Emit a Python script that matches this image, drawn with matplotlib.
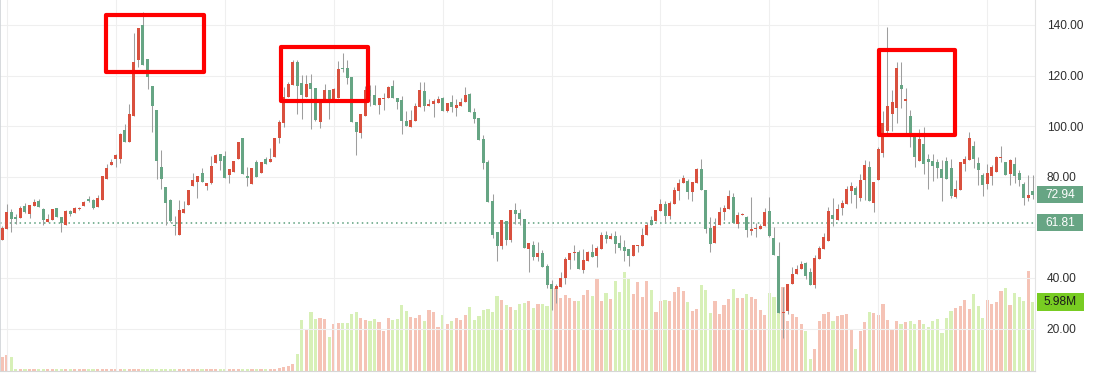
import matplotlib
matplotlib.use("Agg")
import matplotlib.pyplot as plt
from matplotlib.patches import Rectangle
from matplotlib.transforms import blended_transform_factory

# daily OHLC (price) and volume (millions)
open_ = [
    55.0, 59.4, 66.0, 64.0, 63.7, 68.4, 65.3, 68.4, 70.3, 67.2, 62.2, 63.0, 67.6, 64.0, 60.8, 66.4,
    65.7, 67.4, 68.5, 71.3, 71.0, 68.1, 70.7, 79.2, 84.7, 87.0, 87.0, 98.4, 93.8, 104.1, 126.1, 140.0,
    126.4, 115.9, 106.4, 84.0, 75.9, 70.7, 60.8, 57.0, 65.7, 68.9, 76.4, 78.1, 81.4, 76.4, 77.5, 85.5,
    89.2, 88.2, 80.6, 81.9, 87.0, 95.4, 80.2, 77.1, 85.8, 81.6, 87.0, 85.8, 87.9, 95.4, 101.3, 111.5,
    116.4, 125.4, 117.0, 111.5, 117.0, 115.1, 101.6, 110.7, 114.3, 110.7, 111.2, 122.9, 123.0, 119.4,
    101.6, 97.4, 104.0, 114.5, 112.3, 108.3, 110.7, 111.2, 115.9, 111.1, 110.3, 102.1, 99.8, 101.9,
    107.7, 113.9, 107.9, 108.9, 109.3, 111.1, 106.1, 109.5, 107.3, 108.1, 109.7, 112.6, 105.6, 103.2,
    95.0, 85.8, 70.3, 58.2, 52.5, 62.4, 54.9, 66.8, 65.5, 63.2, 51.3, 52.9, 48.3, 49.8, 44.6, 37.8,
    35.6, 36.4, 40.0, 47.0, 49.8, 50.2, 43.0, 46.6, 50.2, 48.6, 51.5, 56.9, 55.4, 56.5, 53.7, 52.1,
    51.3, 48.7, 52.7, 52.7, 56.8, 62.8, 62.4, 66.6, 69.1, 64.4, 69.2, 74.3, 77.5, 78.5, 74.0, 77.6,
    83.0, 74.7, 59.9, 53.9, 60.8, 66.1, 67.2, 71.9, 61.4, 64.8, 64.0, 58.6, 59.4, 59.4, 60.4, 66.4,
    56.0, 48.8, 26.1, 26.9, 37.6, 41.6, 43.6, 45.8, 42.2, 37.1, 47.4, 51.6, 54.6, 64.8, 63.1, 67.6,
    69.3, 74.4, 75.5, 71.7, 78.6, 83.8, 69.8, 78.7, 89.5, 98.0, 104.8, 107.1, 116.3, 109.9, 104.0,
    96.5, 86.2, 92.9, 87.1, 86.2, 85.8, 83.1, 86.2, 83.4, 72.1, 74.7, 85.0, 86.6, 92.2, 85.4, 80.8,
    77.1, 80.4, 82.0, 87.6, 85.8, 81.2, 85.1, 81.4, 77.0, 71.7, 74.3,
]
high = [
    60.6, 69.2, 67.2, 65.3, 68.5, 69.6, 68.9, 71.1, 71.1, 67.7, 65.3, 67.2, 67.6, 64.0, 66.7, 66.9,
    68.2, 68.1, 70.4, 72.6, 71.3, 72.8, 80.2, 85.0, 87.1, 89.2, 97.3, 101.0, 108.7, 136.7, 138.8, 145.1,
    126.4, 115.9, 106.4, 90.5, 75.9, 71.4, 64.4, 70.7, 70.3, 74.6, 81.4, 80.2, 83.4, 77.5, 88.2, 88.9,
    89.2, 90.3, 82.9, 86.2, 93.7, 95.4, 83.7, 83.4, 86.7, 85.8, 88.0, 91.3, 95.4, 102.4, 115.3, 117.5,
    126.1, 126.2, 120.2, 120.2, 120.7, 115.1, 110.8, 116.6, 114.3, 114.9, 125.8, 128.8, 126.1, 119.4,
    101.6, 105.0, 115.9, 116.1, 116.1, 111.1, 113.0, 115.9, 118.2, 111.1, 111.9, 105.9, 106.3, 109.3,
    117.5, 117.6, 110.7, 110.9, 112.0, 111.6, 109.1, 112.3, 110.8, 111.1, 115.5, 113.3, 107.0, 103.2,
    96.4, 86.6, 73.3, 58.2, 63.0, 62.4, 66.8, 69.7, 67.2, 63.5, 54.0, 54.5, 54.1, 51.1, 45.4, 39.1,
    37.5, 42.5, 48.3, 50.0, 53.0, 51.0, 51.4, 50.5, 53.4, 52.5, 58.1, 58.6, 57.6, 58.5, 57.0, 55.1,
    51.3, 52.9, 52.9, 59.9, 62.2, 64.7, 66.8, 71.4, 70.3, 70.5, 75.8, 79.0, 80.6, 79.3, 77.9, 83.5,
    87.0, 74.7, 64.2, 63.6, 68.1, 68.8, 74.7, 73.6, 66.0, 65.8, 64.7, 71.9, 61.6, 61.5, 67.6, 71.9,
    60.1, 54.1, 36.4, 37.8, 44.5, 45.0, 46.7, 46.2, 43.9, 49.2, 52.5, 57.8, 68.0, 71.6, 69.1, 71.0,
    76.5, 77.9, 76.5, 81.1, 86.8, 86.2, 77.9, 91.8, 106.0, 139.3, 114.4, 125.4, 125.4, 115.0, 106.4,
    97.4, 98.8, 99.6, 89.2, 88.9, 87.1, 86.8, 87.9, 87.1, 78.6, 85.8, 88.3, 97.7, 94.0, 87.9, 81.6,
    85.0, 84.7, 88.1, 92.1, 85.8, 87.1, 87.9, 82.6, 78.0, 80.6, 80.6,
]
low = [
    55.0, 59.4, 58.2, 61.5, 63.7, 65.5, 63.6, 68.4, 68.1, 60.8, 62.2, 63.0, 64.1, 58.2, 60.8, 64.4,
    65.7, 66.8, 68.5, 70.2, 67.3, 68.1, 70.7, 79.2, 84.7, 84.0, 85.3, 93.8, 93.8, 104.1, 123.5, 124.3,
    114.8, 97.8, 79.3, 75.3, 60.8, 62.0, 56.8, 57.0, 65.7, 68.9, 76.4, 71.8, 78.0, 74.8, 77.0, 85.5,
    82.6, 79.6, 77.7, 81.9, 87.0, 81.2, 76.5, 77.0, 80.0, 81.6, 85.0, 85.8, 87.9, 93.4, 99.7, 111.5,
    116.4, 105.0, 102.8, 111.5, 99.0, 102.1, 99.3, 110.7, 102.9, 110.7, 111.2, 121.3, 116.8, 101.6,
    88.7, 95.5, 104.0, 108.1, 108.3, 104.9, 106.3, 111.2, 111.2, 106.9, 97.1, 100.0, 99.8, 101.9,
    107.7, 106.1, 107.9, 103.6, 109.3, 106.1, 105.8, 105.6, 104.1, 108.1, 109.7, 105.7, 101.4, 94.6,
    83.2, 70.1, 55.8, 46.7, 51.6, 52.9, 54.2, 61.5, 60.8, 51.9, 42.4, 47.3, 46.6, 44.2, 36.0, 27.2,
    30.1, 36.4, 37.8, 43.5, 47.2, 43.6, 42.0, 46.6, 48.3, 44.4, 51.5, 53.9, 55.4, 49.8, 51.2, 46.8,
    44.9, 48.6, 50.3, 52.7, 56.8, 60.8, 62.4, 66.6, 62.2, 63.3, 69.2, 70.7, 77.5, 71.1, 70.5, 77.6,
    74.7, 57.9, 50.3, 53.9, 60.8, 63.0, 67.2, 61.8, 59.8, 64.8, 56.2, 56.9, 56.2, 59.4, 60.4, 56.1,
    49.2, 26.1, 16.3, 25.9, 37.6, 41.6, 43.6, 39.8, 37.1, 36.2, 47.4, 51.6, 54.6, 60.6, 63.1, 65.0,
    69.3, 69.7, 67.6, 70.6, 70.7, 70.5, 66.2, 78.7, 88.0, 96.9, 98.0, 101.3, 107.3, 97.3, 91.9,
    83.9, 86.2, 81.1, 75.2, 78.2, 79.4, 70.6, 79.2, 71.8, 71.8, 74.7, 82.2, 86.6, 83.4, 76.7, 72.5,
    75.0, 76.7, 82.0, 85.8, 80.8, 76.7, 77.6, 76.5, 68.8, 70.6, 71.4,
]
close = [
    59.8, 66.0, 63.2, 63.2, 67.6, 66.0, 68.9, 70.1, 68.1, 63.0, 63.5, 67.2, 64.1, 61.8, 66.4, 65.3,
    67.7, 67.6, 70.0, 70.3, 67.6, 71.5, 80.2, 83.4, 85.8, 88.7, 96.9, 93.8, 104.8, 125.4, 138.8, 124.3,
    119.6, 107.9, 86.2, 79.1, 69.7, 62.4, 60.6, 66.8, 67.3, 74.6, 78.7, 80.2, 78.0, 77.5, 84.2, 88.5,
    86.2, 79.6, 82.9, 86.2, 93.7, 81.2, 79.6, 83.4, 80.0, 85.8, 85.0, 87.1, 95.4, 101.6, 111.5, 116.6,
    125.4, 115.9, 112.3, 116.6, 114.8, 102.4, 110.8, 114.3, 110.7, 114.7, 122.6, 122.7, 119.0, 101.6,
    97.7, 105.0, 114.5, 111.9, 108.3, 111.1, 111.1, 115.5, 111.2, 109.7, 102.1, 100.0, 102.5, 108.0,
    114.3, 107.9, 108.7, 109.9, 110.8, 106.1, 109.1, 107.5, 108.2, 109.5, 112.4, 105.7, 102.8, 94.6,
    85.4, 70.1, 56.9, 52.5, 62.8, 54.9, 66.8, 65.3, 63.2, 51.9, 54.0, 48.3, 49.8, 44.2, 37.2, 35.6,
    36.7, 40.1, 47.4, 50.0, 50.0, 43.6, 47.0, 50.2, 48.3, 51.7, 56.9, 55.3, 56.5, 53.6, 51.9, 50.6,
    48.7, 52.9, 52.9, 56.8, 60.8, 60.8, 66.8, 69.1, 64.4, 69.6, 74.7, 77.5, 79.5, 74.0, 77.9, 83.0,
    74.7, 59.3, 53.5, 60.7, 66.2, 67.6, 72.3, 61.8, 64.8, 65.2, 59.0, 59.4, 59.8, 60.6, 66.0, 56.6,
    49.2, 26.1, 26.5, 37.8, 41.5, 43.6, 45.4, 40.7, 37.1, 47.9, 51.7, 56.1, 66.4, 63.2, 67.2, 69.6,
    75.1, 76.3, 73.0, 78.7, 84.6, 70.5, 77.9, 90.9, 101.2, 107.9, 109.5, 123.0, 114.7, 110.7, 96.5,
    87.9, 95.0, 85.0, 85.8, 84.2, 83.5, 79.6, 79.2, 72.3, 75.1, 85.8, 87.0, 95.3, 87.0, 82.7, 76.7,
    81.6, 83.9, 87.8, 87.9, 80.8, 86.6, 80.4, 78.9, 71.7, 73.0, 72.94,
]
volume = [
    1.21, 1.39, 1.21, 0.14, 0.15, 0.13, 0.16, 0.15, 0.14, 0.15, 0.16, 0.14, 0.13, 0.15, 0.16, 0.14,
    0.15, 0.14, 0.15, 0.13, 0.14, 0.16, 0.15, 0.16, 0.14, 0.15, 0.16, 0.17, 0.15, 0.16, 0.15, 0.14,
    0.15, 0.16, 0.15, 0.14, 0.15, 0.16, 0.14, 0.15, 0.15, 0.16, 0.14, 0.15, 0.13, 0.15, 0.16, 0.15,
    0.14, 0.15, 0.15, 0.16, 0.14, 0.15, 0.15, 0.14, 0.16, 0.15, 0.15, 0.17, 0.20, 0.23, 0.32, 0.40,
    0.60, 1.47, 4.42, 3.64, 5.11, 4.48, 4.59, 4.50, 2.95, 4.10, 4.16, 4.16, 4.19, 4.94, 5.11, 4.59,
    4.42, 4.33, 4.50, 4.25, 3.47, 4.59, 4.42, 4.50, 5.72, 5.20, 4.68, 4.59, 4.85, 4.33, 5.29, 5.11,
    3.81, 4.85, 4.07, 4.33, 4.59, 4.42, 4.85, 5.55, 4.42, 4.77, 5.29, 5.37, 5.11, 6.50, 6.15, 5.72,
    5.55, 5.29, 5.81, 5.89, 6.07, 5.46, 5.81, 5.81, 5.63, 7.45, 7.16, 6.33, 6.59, 6.33, 6.07, 6.07,
    6.59, 7.02, 6.50, 7.97, 6.07, 6.76, 6.24, 7.80, 6.85, 8.58, 7.97, 6.67, 7.71, 6.41, 7.80, 7.02,
    5.11, 6.07, 6.15, 6.07, 6.85, 7.28, 6.93, 5.98, 5.20, 5.37, 7.45, 7.02, 5.03, 6.07, 4.94, 5.72,
    6.24, 7.10, 6.33, 6.33, 6.67, 6.41, 6.24, 5.29, 4.85, 6.76, 6.41, 8.32, 7.28, 4.33, 4.94, 4.68,
    4.07, 3.47, 1.04, 1.91, 4.33, 4.94, 5.11, 4.33, 4.77, 4.85, 4.94, 3.55, 1.91, 3.47, 4.25, 5.11,
    5.03, 4.85, 5.81, 4.42, 3.55, 4.33, 4.07, 4.25, 4.33, 4.07, 4.42, 4.07, 3.81, 4.33, 4.50, 3.29,
    4.59, 5.20, 5.46, 5.63, 6.15, 5.37, 6.67, 5.63, 4.59, 6.15, 5.81, 5.98, 6.93, 7.19, 5.72, 6.76,
    6.41, 6.07, 8.67, 5.98,
]

price_ticks = [20, 40, 60, 80, 100, 120, 140]
price_labels = ["20.00", "40.00", "", "80.00", "100.00", "120.00", "140.00"]
ref_price = 61.81
last_volume_label = "5.98M"

# highlighted zones: (x0, x1, price_low, price_high)
boxes = [(22.8, 44.4, 121.4, 143.9), (61.4, 80.6, 110.0, 131.3), (193.1, 209.8, 96.5, 130.1)]

UP = "#d9503e"
DOWN = "#66a584"
UP_VOL = "#f5c3b6"
DOWN_VOL = "#d7f0b7"
WICK = "#9e9e9e"

plt.rcParams["font.family"] = ["Liberation Sans", "DejaVu Sans"]

fig = plt.figure(figsize=(11.02, 3.73), dpi=100)
ax = fig.add_axes([0, 2 / 373, 1035 / 1102, 371 / 373])
vax = ax.twinx()
ax.set_zorder(2)
ax.patch.set_visible(False)
vax.set_zorder(1)

n = len(close)
xs = list(range(n))
up = [c >= o for o, c in zip(open_, close)]

# volume bars
vax.bar(xs, volume, width=0.7, color=[UP_VOL if u else DOWN_VOL for u in up], linewidth=0)
vax.set_ylim(0, 32.15)
vax.set_yticks([])
for s in vax.spines.values():
    s.set_visible(False)

# candles
ax.vlines(xs, low, high, color=WICK, linewidth=0.75, zorder=3)
bottoms = [min(o, c) for o, c in zip(open_, close)]
heights = [max(abs(c - o), 0.35) for o, c in zip(open_, close)]
ax.bar(xs, heights, bottom=bottoms, width=0.66,
       color=[UP if u else DOWN for u in up], linewidth=0, zorder=4)

ax.set_xlim(-0.5, 227.5)
ax.set_ylim(3.24, 149.88)

ax.set_xticks(range(1, n, 24))
ax.set_xticklabels([])
ax.set_yticks(price_ticks)
ax.set_yticklabels(price_labels)
ax.yaxis.tick_right()
ax.tick_params(axis="y", length=0, pad=8.5, labelsize=8.6, labelcolor="#2f2f2f")
ax.tick_params(axis="x", length=0)
ax.grid(True, color="#efefef", linewidth=0.8)
ax.set_axisbelow(True)

for side in ["top"]:
    ax.spines[side].set_visible(False)
ax.spines["left"].set_color("#cfd3d7")
ax.spines["left"].set_linewidth(1.2)
ax.spines["right"].set_color("#e3e3e3")
ax.spines["bottom"].set_color("#d7d7d7")

# reference price line
ax.axhline(ref_price, color="#5b9f7c", linewidth=1.1, linestyle=(0, (1, 2.2)), zorder=2)

# highlight rectangles
for x0, x1, p0, p1 in boxes:
    ax.add_patch(Rectangle((x0, p0), x1 - x0, p1 - p0, fill=False, edgecolor="#ff0000",
                           linewidth=3, joinstyle="round", zorder=6))

# right-hand value labels
tr = blended_transform_factory(ax.transAxes, ax.transData)
for price, label in [(close[-1], f"{close[-1]:.2f}"), (ref_price, f"{ref_price:.2f}")]:
    ax.add_patch(Rectangle((1.0019, price - 3.35), 0.0445, 6.7, transform=tr, clip_on=False,
                           facecolor="#67a584", edgecolor="none", zorder=7))
    ax.text(1.0242, price, label, transform=tr, ha="center", va="center", color="white",
            fontsize=8.6, zorder=8, clip_on=False)

vtr = blended_transform_factory(vax.transAxes, vax.transData)
vax.add_patch(Rectangle((1.0019, volume[-1] - 0.74), 0.0455, 1.48, transform=vtr, clip_on=False,
                        facecolor="#78cc22", edgecolor="none", zorder=7))
vax.text(1.0246, volume[-1], last_volume_label, transform=vtr, ha="center", va="center",
         color="#1a1a1a", fontsize=8.6, zorder=8, clip_on=False)

fig.savefig("out.png", dpi=100)
